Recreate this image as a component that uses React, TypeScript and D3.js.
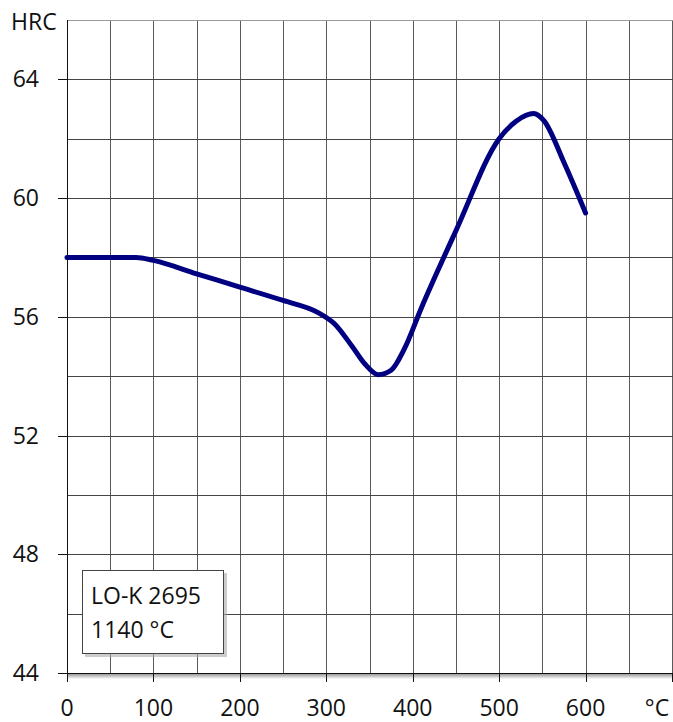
import { useEffect, useRef } from 'react'
import * as d3 from 'd3'

// Hardness after tempering, LO-K 2695 hardened from 1140 °C
const temps = [0, 80, 100, 150, 200, 250, 290, 310, 330, 345, 360, 375, 390, 410, 450, 500, 520, 540, 552, 575, 600]
const hrc = [58, 58, 57.9, 57.45, 57.0, 56.55, 56.15, 55.75, 55.0, 54.4, 54.05, 54.2, 54.9, 56.3, 58.9, 62.0, 62.6, 62.85, 62.6, 61.2, 59.5]

const xLabels = [0, 100, 200, 300, 400, 500, 600]
const yLabels = [44, 48, 52, 56, 60, 64]
const legendLines = ['LO-K 2695', '1140 °C']

export default function App() {
  const svgRef = useRef<SVGSVGElement>(null)

  useEffect(() => {
    const svg = d3.select(svgRef.current)
    svg.selectAll('*').remove()

    const width = 673
    const height = 722
    const margin = { top: 20, right: 0, bottom: 49, left: 67 }
    const innerW = width - margin.left - margin.right
    const innerH = height - margin.top - margin.bottom
    const font = "'Open Sans', sans-serif"
    const fs = 23

    svg.attr('width', width).attr('height', height)

    const x = d3.scaleLinear().domain([0, 700]).range([0, innerW - 1])
    const y = d3.scaleLinear().domain([44, 66]).range([innerH, 0])

    const root = svg.append('g').attr('transform', `translate(${margin.left},${margin.top})`)

    // ── Grid ──────────────────────────────────────────────────────
    root
      .append('g')
      .selectAll('line')
      .data(d3.range(50, 701, 50))
      .join('line')
      .attr('x1', (d) => Math.round(x(d)) + 0.5)
      .attr('x2', (d) => Math.round(x(d)) + 0.5)
      .attr('y1', 0)
      .attr('y2', innerH)
      .attr('stroke', '#5a5a5a')

    root
      .append('g')
      .selectAll('line')
      .data(d3.range(46, 67, 2))
      .join('line')
      .attr('x1', 0)
      .attr('x2', innerW)
      .attr('y1', (d) => Math.round(y(d)) + 0.5)
      .attr('y2', (d) => Math.round(y(d)) + 0.5)
      .attr('stroke', (d) => (d === 66 ? '#999' : '#444'))

    // shadow under x axis
    const shadow = svg.append('defs').append('linearGradient').attr('id', 'sh').attr('x1', 0).attr('x2', 0).attr('y1', 0).attr('y2', 1)
    shadow.append('stop').attr('offset', '0%').attr('stop-color', '#999')
    shadow.append('stop').attr('offset', '100%').attr('stop-color', '#fff')
    root.append('rect').attr('x', 0).attr('y', innerH + 1).attr('width', innerW).attr('height', 5).attr('fill', 'url(#sh)')

    // ── Axes ──────────────────────────────────────────────────────
    root.append('line').attr('x1', 0.5).attr('x2', 0.5).attr('y1', 0).attr('y2', innerH).attr('stroke', '#111')
    root.append('line').attr('x1', -9).attr('x2', innerW).attr('y1', innerH + 0.5).attr('y2', innerH + 0.5).attr('stroke', '#111')

    root
      .append('g')
      .selectAll('line')
      .data(yLabels)
      .join('line')
      .attr('x1', -9)
      .attr('x2', 0)
      .attr('y1', (d) => Math.round(y(d)) + 0.5)
      .attr('y2', (d) => Math.round(y(d)) + 0.5)
      .attr('stroke', '#111')

    root
      .append('g')
      .selectAll('line')
      .data([...xLabels, 700])
      .join('line')
      .attr('x1', (d) => Math.round(x(d)) + 0.5)
      .attr('x2', (d) => Math.round(x(d)) + 0.5)
      .attr('y1', innerH)
      .attr('y2', innerH + 9)
      .attr('stroke', '#111')

    root
      .append('g')
      .selectAll('text')
      .data(yLabels)
      .join('text')
      .attr('x', -28)
      .attr('y', (d) => y(d))
      .attr('dy', '0.35em')
      .attr('text-anchor', 'end')
      .attr('font-family', font)
      .attr('font-size', fs)
      .attr('fill', '#111')
      .text((d) => d)

    root
      .append('g')
      .selectAll('text')
      .data(xLabels)
      .join('text')
      .attr('x', (d) => x(d))
      .attr('y', innerH + 43)
      .attr('text-anchor', 'middle')
      .attr('font-family', font)
      .attr('font-size', fs)
      .attr('fill', '#111')
      .text((d) => d)

    root
      .append('text')
      .attr('x', x(700) - 15)
      .attr('y', innerH + 43)
      .attr('text-anchor', 'middle')
      .attr('font-family', font)
      .attr('font-size', fs)
      .attr('fill', '#111')
      .text('°C')

    root
      .append('text')
      .attr('x', -56)
      .attr('y', 10)
      .attr('font-family', font)
      .attr('font-size', fs)
      .attr('fill', '#111')
      .text('HRC')

    // ── Curve ─────────────────────────────────────────────────────
    const line = d3
      .line<number>()
      .x((_, i) => x(temps[i]))
      .y((d) => y(d))
      .curve(d3.curveMonotoneX)

    root
      .append('path')
      .datum(hrc)
      .attr('d', line)
      .attr('fill', 'none')
      .attr('stroke', '#000080')
      .attr('stroke-width', 5)
      .attr('stroke-linecap', 'round')

    // ── Legend box ────────────────────────────────────────────────
    const lg = root.append('g').attr('transform', `translate(15,${innerH - 103})`)
    lg.append('rect').attr('x', 3).attr('y', 3).attr('width', 142).attr('height', 84).attr('fill', '#aaa').attr('opacity', 0.6)
    lg.append('rect').attr('x', 0.5).attr('y', 0.5).attr('width', 141).attr('height', 83).attr('fill', '#fff').attr('stroke', '#444')
    lg.selectAll('text.l')
      .data(legendLines)
      .join('text')
      .attr('x', 9)
      .attr('y', (_, i) => 34 + i * 34)
      .attr('font-family', font)
      .attr('font-size', fs)
      .attr('fill', '#111')
      .text((d) => d)
  }, [])

  return <svg ref={svgRef} style={{ display: 'block', position: 'absolute', left: 0, top: 0 }} />
}
